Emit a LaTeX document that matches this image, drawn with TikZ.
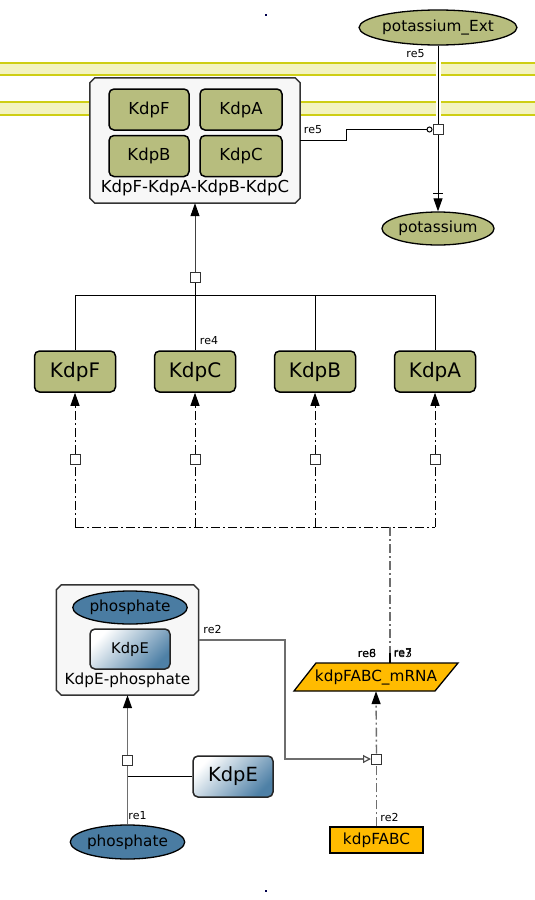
\documentclass[tikz,border=0pt]{standalone}
\usepackage{fontspec}
\setmainfont{DejaVu Sans}
\usetikzlibrary{arrows.meta,shapes.geometric}
\definecolor{kolive}{RGB}{183,189,126}
\definecolor{kblue}{RGB}{74,124,162}
\definecolor{kblue2}{RGB}{78,128,166}
\definecolor{korange}{RGB}{255,187,0}
\definecolor{memfill}{RGB}{243,243,192}
\definecolor{memline}{RGB}{206,206,20}
\definecolor{cfill}{RGB}{247,247,247}
\definecolor{gline}{RGB}{110,110,110}
\newcommand{\chamfbox}[1]{\draw[cplx] ([xshift=5pt]#1.north west) -- ([xshift=-5pt]#1.north east) -- ([yshift=-5pt]#1.north east) -- ([yshift=5pt]#1.south east) -- ([xshift=-5pt]#1.south east) -- ([xshift=5pt]#1.south west) -- ([yshift=5pt]#1.south west) -- ([yshift=-5pt]#1.north west) -- cycle;}
\tikzset{
  fbig/.style={font=\fontsize{20}{20}\selectfont},
  fmid/.style={font=\fontsize{16.5}{16.5}\selectfont},
  fnorm/.style={font=\fontsize{15.3}{15.3}\selectfont},
  flab/.style={font=\fontsize{11}{11}\selectfont, inner sep=0},
  prot/.style={draw=black, line width=1.5pt, rounded corners=5pt, fill=kolive, minimum width=81, minimum height=41, inner sep=0, fbig},
  iprot/.style={draw=black, line width=1.5pt, rounded corners=5pt, fill=kolive, minimum height=41, inner sep=0, fmid},
  oliveell/.style={ellipse, draw=black, line width=1.3pt, fill=kolive, inner sep=0, fnorm},
  blueell/.style={ellipse, draw=black, line width=1.3pt, fill=kblue, inner sep=0, fnorm},
  kdpebox/.style={draw=black!85, line width=1.5pt, rounded corners=5pt, left color=white, right color=kblue2, shading angle=45, inner sep=0},
  cplx/.style={draw=black!80, line width=1.5pt, fill=cfill},
  cbox/.style={rectangle, draw=none, inner sep=0},
  proc/.style={draw=black!80, fill=white, minimum size=10, inner sep=0, line width=1pt},
  ln/.style={draw=black, line width=1pt},
  gln/.style={draw=gline, line width=1.2pt},
  dd/.style={draw=black, line width=1pt, dash pattern=on 9pt off 3pt on 2pt off 3pt},
  gdd/.style={draw=gline, line width=1.4pt, dash pattern=on 9pt off 3pt on 2pt off 3pt},
  tri/.style={-{Triangle[length=13pt,width=9pt,color=black]}},
  memb/.style={draw=memline, line width=1.6pt},
}
\begin{document}
\begin{tikzpicture}[x=1pt,y=-1pt]
\useasboundingbox (0,0) rectangle (535,900);
\fill[white] (0,0) rectangle (535,900);
% membrane
\fill[memfill] (0,63) rectangle (535,75);
\fill[memfill] (0,102) rectangle (535,115);
\draw[memb] (0,63) -- (535,63);
\draw[memb] (0,75) -- (535,75);
\draw[memb] (0,102) -- (535,102);
\draw[memb] (0,115) -- (535,115);
% tiny dots
\fill[black!70!blue] (265.3,14.3) rectangle (266.7,15.7);
\fill[black!70!blue] (265.3,890.3) rectangle (266.7,891.7);

% complex 1
\node[cbox, minimum width=210, minimum height=125] (c1) at (195,140.5) {};
\chamfbox{c1}
\node[iprot, minimum width=80] (cF) at (149,109.5) {KdpF};
\node[iprot, minimum width=82] (cA) at (241,109.5) {KdpA};
\node[iprot, minimum width=80] (cB) at (149,156) {KdpB};
\node[iprot, minimum width=82] (cC) at (241,156) {KdpC};
\node[fmid, inner sep=0] (c1lab) at (195,188) {KdpF-KdpA-KdpB-KdpC};

% potassium transport
\node[oliveell, minimum width=136, minimum height=35] (pext) at (438,27.5) {potassium\_Ext};
\node[oliveell, minimum width=105, minimum height=33] (pin) at (438,228.5) {potassium};
\node[proc] (s5) at (438,129.5) {};
\draw[white, line width=5pt] (pext.south) -- (s5.north);
\draw[ln] (pext.south) -- (s5.north);
\draw[ln, tri] (s5.south) -- (pin.north);
\draw[ln] ([xshift=-5pt,yshift=18pt]pin.north) -- ([xshift=5pt,yshift=18pt]pin.north);
\draw[ln, -{Circle[open,length=6pt,width=6pt]}] (c1.east) -- (346,140.5) |- (s5.west);
\node[proc] at (s5) {};
\node[flab] (l5a) at (415.5,54) {re5};
\node[flab] (l5b) at (313,130) {re5};

% proteins
\node[prot] (bF) at (75,371.5) {KdpF};
\node[prot] (bC) at (195,371.5) {KdpC};
\node[prot] (bB) at (315,371.5) {KdpB};
\node[prot] (bA) at (435,371.5) {KdpA};
\node[proc] (s4) at (195,277) {};
\draw[ln] (bF.north) -- (75,295) -- (435,295) -- (bA.north);
\draw[ln] (bB.north) -- (315,295);
\draw[ln] (bC.north) -- (s4.south);
\draw[ln, draw=black!75, tri] (s4.north) -- (c1.south);
\node[flab] (l4) at (209,341) {re4};

% translation
\node[proc] (tF) at (75,459.5) {};
\node[proc] (tC) at (195,459.5) {};
\node[proc] (tB) at (315,459.5) {};
\node[proc] (tA) at (435,459.5) {};
\draw[dd] (75,527) -- (435,527);
\foreach \n/\x in {tF/75,tC/195,tB/315,tA/435}{
  \draw[dd] (\x,527) -- (\n.south);
}
\draw[dd, tri] (tF.north) -- (bF.south);
\draw[dd, tri] (tC.north) -- (bC.south);
\draw[dd, tri] (tB.north) -- (bB.south);
\draw[dd, tri] (tA.north) -- (bA.south);

% mRNA
\node[cbox, minimum width=150, minimum height=28] (mrna) at (376,677) {};
\draw[black, line width=1.3pt, fill=korange] (316,663) -- (458,663) -- (435,691) -- (294,691) -- cycle;
\node[fnorm, inner sep=0] at (mrna) {kdpFABC\_mRNA};
\draw[gdd] (390,527) -- (390,653);
\draw[ln, line width=1.4pt] (390,653) -- (390,663);
\node[flab] (l6) at (367,653) {re6};
\node[flab] (l8) at (367,653) {re8};
\node[flab] (l3) at (403,653) {re3};
\node[flab] (l7) at (403,653) {re7};

% gene
\node[draw=black, line width=1.5pt, fill=korange, minimum width=93, minimum height=26, inner sep=0, fnorm] (fabc) at (376.5,840) {kdpFABC};
\node[proc] (s2) at (376.5,759) {};
\draw[gdd] (fabc.north) -- (s2.south);
\draw[gdd, tri] (s2.north) -- (mrna.south);
\node[flab] (l2b) at (389.5,817) {re2};

% complex 2
\node[cbox, minimum width=142, minimum height=110] (c2) at (127.5,640) {};
\chamfbox{c2}
\node[blueell, minimum width=103, minimum height=33] (cph) at (130,607.5) {phosphate};
\node[kdpebox, minimum width=80, minimum height=40, font=\fontsize{14.7}{14.7}\selectfont] (cE) at (130,649) {KdpE};
\node[fnorm, inner sep=0] (c2lab) at (127.5,680) {KdpE-phosphate};
\draw[gln, -{Triangle[open,length=8pt,width=8pt,color=black!70]}] (c2.east) -- (285,640) |- (s2.west);
\node[proc] at (s2) {};
\node[flab] (l2a) at (212.5,629) {re2};

% phosphorylation
\node[kdpebox, minimum width=80, minimum height=41, font=\fontsize{19.5}{19.5}\selectfont] (kdpe) at (233,776.5) {KdpE};
\node[blueell, minimum width=100, minimum height=34] (pb) at (127.5,842) {phosphate};
\node[proc] (s1) at (127.5,760.5) {};
\draw[gln] (pb.north) -- (s1.south);
\draw[gln, tri] (s1.north) -- (c2.south);
\draw[ln] (kdpe.west) -- (127.5,776.5);
\node[proc] at (s1) {};
\node[flab] (l1) at (137.5,816) {re1};
\end{tikzpicture}
\end{document}
